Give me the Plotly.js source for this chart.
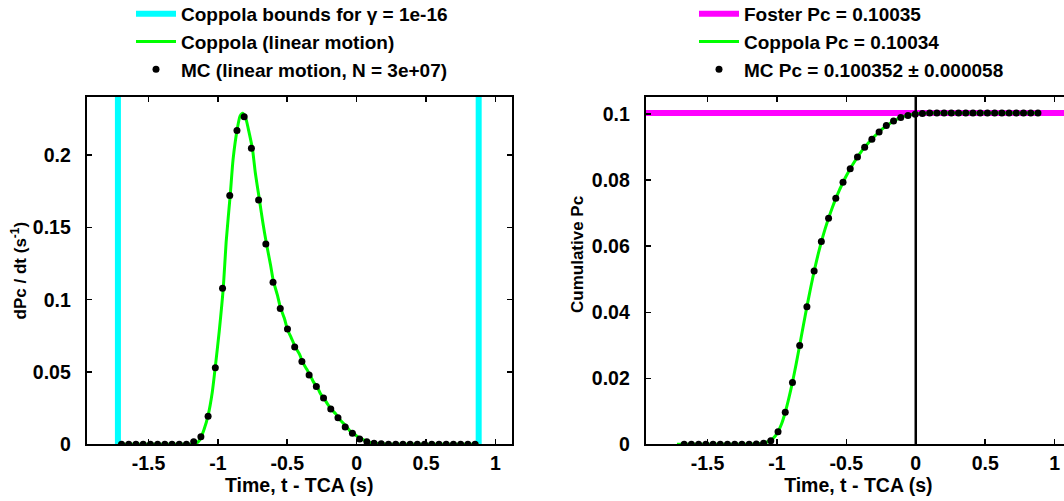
<!DOCTYPE html>
<html>
<head>
<meta charset="utf-8">
<script src="https://cdn.plot.ly/plotly-3.0.1.min.js"></script>
<style>
html,body{margin:0;padding:0;overflow:hidden;background:#fff;}
#chart{width:1080px;height:506px;margin-top:-5px;}
</style>
</head>
<body>
<div id="chart"></div>
<script>
// ---------- data ----------
// MC histogram bin centres (s) and dPc/dt values (1/s)
const mcDensityT = [-1.694,-1.642,-1.590,-1.538,-1.486,-1.434,-1.382,-1.330,-1.278,-1.226,
  -1.174,-1.122,-1.070,-1.018,-0.966,-0.914,-0.862,-0.810,-0.758,-0.706,
  -0.654,-0.602,-0.550,-0.498,-0.446,-0.394,-0.342,-0.290,-0.238,-0.186,
  -0.134,-0.082,-0.030,0.022,0.074,0.126,0.178,0.230,0.282,0.334,
  0.386,0.438,0.490,0.542,0.594,0.646,0.698,0.750,0.802,0.854];
const mcDensity = [0,0,0,0,0,0,0,0,0,0,
  0.0018,0.0053,0.0194,0.053,0.108,0.172,0.217,0.2266,0.2047,0.169,
  0.1385,0.112,0.094,0.0798,0.0673,0.0572,0.048,0.0399,0.032,0.0244,
  0.0184,0.012,0.0076,0.0037,0.0018,0.0008,0.0003,0,0,0,
  0,0,0,0,0,0,0,0,0,0];

// Coppola dPc/dt curve
const coppolaT = [-1.72,-1.40,-1.20,-1.16,-1.13,-1.10,-1.07,-1.04,-1.02,-0.99,-0.96,-0.94,-0.91,-0.89,
  -0.86,-0.84,-0.82,-0.80,-0.78,-0.75,-0.73,-0.70,-0.675,-0.65,-0.62,-0.60,-0.57,-0.55,-0.52,-0.50,
  -0.47,-0.44,-0.41,-0.39,-0.36,-0.33,-0.31,-0.28,-0.26,-0.23,-0.21,-0.18,-0.15,-0.13,-0.10,-0.07,
  -0.05,-0.02,0.00,0.03,0.06,0.08,0.11,0.15,0.20,0.30,0.88];
const coppolaDensity = [0,0,0,0.0003,0.003,0.010,0.020,0.036,0.052,0.078,0.109,0.140,0.173,0.197,
  0.218,0.227,0.229,0.226,0.218,0.204,0.188,0.169,0.153,0.139,0.124,0.113,0.103,0.095,0.087,0.080,
  0.0735,0.067,0.062,0.057,0.052,0.047,0.043,0.039,0.035,0.031,0.028,0.024,0.021,0.018,0.015,0.012,
  0.0095,0.0075,0.0058,0.004,0.0026,0.0017,0.001,0.0005,0.0002,0,0];

// Coppola bounds for gamma = 1e-16
const boundT = [-1.72, 0.88];

// MC cumulative Pc at bin right edges
const mcCumT = [-1.668,-1.616,-1.564,-1.512,-1.460,-1.408,-1.356,-1.304,-1.252,-1.200,
  -1.148,-1.096,-1.044,-0.992,-0.940,-0.888,-0.836,-0.784,-0.732,-0.680,
  -0.628,-0.576,-0.524,-0.472,-0.420,-0.368,-0.316,-0.264,-0.212,-0.160,
  -0.108,-0.056,-0.004,0.048,0.100,0.152,0.204,0.256,0.308,0.360,
  0.412,0.464,0.516,0.568,0.620,0.672,0.724,0.776,0.828,0.880];
const mcCum = [0,0,0,0,0,0,0,0,0,0,
  0.0001,0.0003,0.0011,0.0038,0.0097,0.0187,0.0299,0.0417,0.0525,0.0614,
  0.0685,0.0745,0.0794,0.0835,0.087,0.090,0.0924,0.0946,0.0966,0.0979,
  0.099,0.0996,0.1000,0.1002,0.10035,0.10035,0.10035,0.10035,0.10035,0.10035,
  0.10035,0.10035,0.10035,0.10035,0.10035,0.10035,0.10035,0.10035,0.10035,0.10035];

// Coppola cumulative curve
const coppolaCumT = [-1.72,-1.30,-1.15,-1.10,-1.07,-1.044,-1.018,-0.992,-0.966,-0.940,-0.914,-0.888,
  -0.862,-0.836,-0.810,-0.784,-0.758,-0.732,-0.706,-0.680,-0.654,-0.628,-0.602,-0.576,-0.550,-0.524,
  -0.498,-0.472,-0.446,-0.420,-0.394,-0.368,-0.342,-0.316,-0.290,-0.264,-0.238,-0.212,-0.186,-0.160,
  -0.134,-0.108,-0.082,-0.056,-0.030,-0.004,0.05,0.15,0.88];
const coppolaCum = [0,0,0.0001,0.0003,0.0007,0.0012,0.0022,0.0038,0.0062,0.0097,0.0140,0.0188,
  0.0242,0.0300,0.0359,0.0417,0.0472,0.0524,0.0571,0.0613,0.0651,0.0685,0.0716,0.0744,0.0770,0.0793,
  0.0815,0.0835,0.0853,0.0870,0.0886,0.0900,0.0913,0.0925,0.0936,0.0946,0.0956,0.0965,0.0972,0.0979,
  0.0985,0.0990,0.0994,0.0997,0.0999,0.1001,0.1003,0.10034,0.10034];

const fosterPc = 0.10035;
const fosterT = [-2.0, 1.2];
const tcaT = [0];

const xTicks = [-1.5,-1,-0.5,0,0.5,1];
const xTickText = ['-1.5','-1','-0.5','0','0.5','1'];
const yTicksL = [0,0.05,0.1,0.15,0.2];
const yTickTextL = ['0','0.05','0.1','0.15','0.2'];
const yTicksR = [0,0.02,0.04,0.06,0.08,0.1];
const yTickTextR = ['0','0.02','0.04','0.06','0.08','0.1'];

const legendLeft = ['Coppola bounds for \u03b3 = 1e-16','Coppola (linear motion)','MC (linear motion, N = 3e+07)'];
const legendRight = ['Foster Pc = 0.10035','Coppola Pc = 0.10034','MC Pc = 0.100352 \u00b1 0.000058'];
const xTitle = 'Time, t - TCA (s)';
const yTitleL = 'dPc / dt (s<sup>-1</sup>)';
const yTitleR = 'Cumulative Pc';

// ---------- build ----------
const FONT = '"Liberation Sans", Arial, sans-serif';
const W = 1080, H = 506, OFF = 5;   // canvas shifted up by OFF px via CSS
const CYAN = '#00ffff', GREEN = '#00ff00', MAGENTA = '#ff00ff';
const boldFont = (s)=>({family:FONT,size:s,color:'#000',weight:'bold'});

const boundX = [], boundY = [];
boundT.forEach((t,i)=>{ if(i) {boundX.push(null); boundY.push(null);} boundX.push(t,t); boundY.push(-1,1); });

const traces = [
  {x: boundX, y: boundY, mode:'lines', line:{color:CYAN,width:6}, name:legendLeft[0], xaxis:'x', yaxis:'y', legend:'legend'},
  {x: coppolaT, y: coppolaDensity, mode:'lines', line:{color:GREEN,width:3,shape:'spline',smoothing:0.6}, name:legendLeft[1], xaxis:'x', yaxis:'y', legend:'legend'},
  {x: mcDensityT, y: mcDensity, mode:'markers', marker:{color:'#000',size:7}, name:legendLeft[2], xaxis:'x', yaxis:'y', legend:'legend'},

  {x: fosterT, y: fosterT.map(()=>fosterPc), mode:'lines', line:{color:MAGENTA,width:6}, name:legendRight[0], xaxis:'x2', yaxis:'y2', legend:'legend2'},
  {x: coppolaCumT, y: coppolaCum, mode:'lines', line:{color:GREEN,width:3,shape:'spline',smoothing:0.6}, name:legendRight[1], xaxis:'x2', yaxis:'y2', legend:'legend2'},
  {x: [tcaT[0],tcaT[0]], y: [-1,1], mode:'lines', line:{color:'#000',width:2.5}, showlegend:false, xaxis:'x2', yaxis:'y2'},
  {x: mcCumT, y: mcCum, mode:'markers', marker:{color:'#000',size:7}, name:legendRight[2], xaxis:'x2', yaxis:'y2', legend:'legend2'}
];

const axisCommon = {
  showline:true, linecolor:'#000', linewidth:2, mirror:'allticks',
  ticks:'inside', ticklen:5, tickwidth:1.5, tickcolor:'#000',
  showgrid:false, zeroline:false, automargin:false,
  tickfont:boldFont(19.5)
};
const xRange = [-1.945, 1.118];
const yDom = [(H-OFF-444.3)/H, (H-OFF-97)/H];

const layout = {
  width: W, height: H,
  margin:{l:0,r:0,t:0,b:0,autoexpand:false},
  paper_bgcolor:'#fff', plot_bgcolor:'#fff',
  font:boldFont(19),
  xaxis: Object.assign({}, axisCommon, {domain:[86.7/W, 511.7/W], range:xRange, anchor:'y',
    tickvals:xTicks, ticktext:xTickText, ticklabelstandoff:0,
    title:{text:xTitle, font:boldFont(19.5), standoff:2}}),
  yaxis: Object.assign({}, axisCommon, {domain:yDom, range:[0,0.2402], anchor:'x',
    tickvals:yTicksL, ticktext:yTickTextL, ticklabelstandoff:10,
    title:{text:yTitleL, font:boldFont(17), standoff:2}}),
  xaxis2: Object.assign({}, axisCommon, {domain:[645.7/W, 1071/W], range:xRange, anchor:'y2',
    tickvals:xTicks, ticktext:xTickText, ticklabelstandoff:0,
    title:{text:xTitle, font:boldFont(19.5), standoff:2}}),
  yaxis2: Object.assign({}, axisCommon, {domain:yDom, range:[0,0.1052], anchor:'x2',
    tickvals:yTicksR, ticktext:yTickTextR, ticklabelstandoff:10}),
  annotations:[
    {text:yTitleR, xref:'paper', yref:'paper', x:578/W, y:(H-OFF-255)/H, xanchor:'center', yanchor:'middle',
     textangle:-90, showarrow:false, font:boldFont(17)}
  ],
  legend:{x:131/W, y:1, xanchor:'left', yanchor:'top', bgcolor:'rgba(0,0,0,0)', borderwidth:0,
    font:boldFont(19), tracegroupgap:0, itemwidth:40},
  legend2:{x:694/W, y:1, xanchor:'left', yanchor:'top', bgcolor:'rgba(0,0,0,0)', borderwidth:0,
    font:boldFont(19), tracegroupgap:0, itemwidth:40},
  showlegend:true
};

Plotly.newPlot('chart', traces, layout, {displayModeBar:false, staticPlot:true});
</script>
</body>
</html>
